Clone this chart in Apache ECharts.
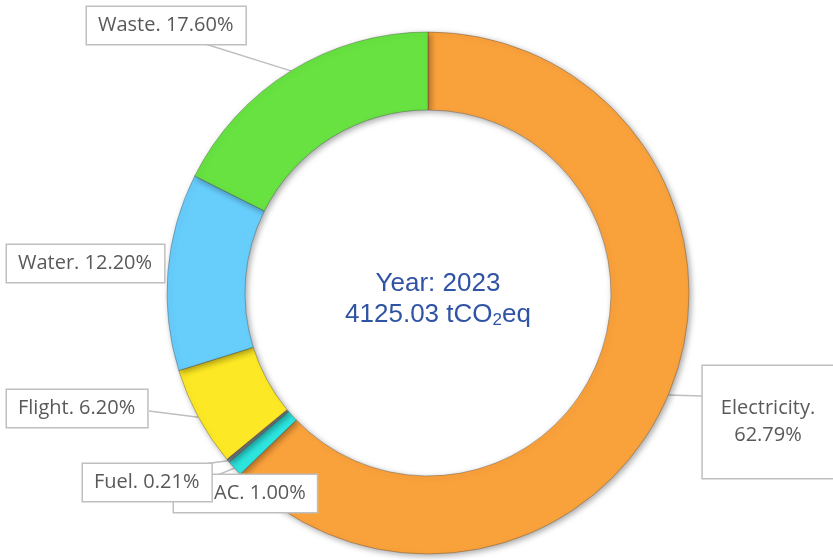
<!DOCTYPE html>
<html>
<head>
<meta charset="utf-8">
<script src="https://cdn.jsdelivr.net/npm/echarts@6/dist/echarts.min.js"></script>
<style>
  html, body { margin: 0; padding: 0; background: #fff; }
  #chart { width: 833px; height: 560px; }
</style>
</head>
<body>
<div id="chart"></div>
<script>
// emission sources, share of total in %
var categories = ['Electricity', 'AC', 'Fuel', 'Flight', 'Water', 'Waste'];
var shares = [62.79, 1.00, 0.21, 6.20, 12.20, 17.60];
var colors = ['#F9A13B', '#2EE4DE', '#8A8A8A', '#FCE824', '#67CDFB', '#67E241'];
var year = 2023;
var totalEmission = 4125.03;

// where each callout box sits (left/top of box, Electricity is centred)
var labelSpots = [[768, 366], [174, 475], [83, 464], [7, 390], [7, 245], [87, 7]];
// where the callout line meets its box
var lineEnds = [[702, 396], [215, 476], [196, 465], [149, 411], null, [202, 43]];

var myChart = echarts.init(document.getElementById('chart'));

var pieData = categories.map(function (name, i) {
  var item = { name: name, value: shares[i], itemStyle: { color: colors[i] } };
  if (name === 'Water') item.labelLine = { show: false };
  if (name === 'Electricity') item.label = { padding: [29, 18], align: 'center', lineHeight: 27 };
  if (name === 'AC') item.label = { padding: [6, 11, 6, 40] };
  return item;
});

myChart.setOption({
  animation: false,
  title: {
    text: '{a|Year: ' + year + '}\n{a|' + totalEmission.toFixed(2) + ' tCO}{s|2}{a|eq}',
    left: 433,
    top: 263,
    textAlign: 'center',
    textStyle: {
      rich: {
        a: { fontSize: 26, fontWeight: 'normal', fontFamily: 'Liberation Sans', color: '#2F54A4', lineHeight: 31 },
        s: { fontSize: 17, fontWeight: 'normal', fontFamily: 'Liberation Sans', color: '#2F54A4', padding: [12, 0, 0, 0] }
      }
    }
  },
  series: [{
    type: 'pie',
    center: [428, 293],
    radius: [183, 261],
    startAngle: 90,
    clockwise: true,
    avoidLabelOverlap: false,
    itemStyle: {
      borderColor: 'rgba(60,60,60,0.35)',
      borderWidth: 1,
      shadowBlur: 6,
      shadowOffsetX: 2,
      shadowOffsetY: 2,
      shadowColor: 'rgba(0,0,0,0.35)'
    },
    label: {
      show: true,
      position: 'outside',
      formatter: function (p) {
        return p.name + (p.dataIndex === 0 ? '.\n' : '. ') + p.value.toFixed(2) + '%';
      },
      fontFamily: 'Open Sans',
      fontSize: 20,
      lineHeight: 25,
      color: '#595959',
      backgroundColor: '#fff',
      borderColor: '#BFBFBF',
      borderWidth: 1.5,
      padding: [6, 12, 6, 11]
    },
    labelLine: {
      show: true,
      lineStyle: { color: '#BFBFBF', width: 1.5 }
    },
    labelLayout: function (params) {
      var spot = labelSpots[params.dataIndex];
      var end = lineEnds[params.dataIndex];
      var out = {
        x: spot[0],
        y: spot[1],
        align: params.dataIndex === 0 ? 'center' : 'left',
        verticalAlign: 'top'
      };
      if (end && params.labelLinePoints) {
        out.labelLinePoints = [params.labelLinePoints[0], end, end];
      }
      return out;
    },
    data: pieData
  }]
});
</script>
</body>
</html>
